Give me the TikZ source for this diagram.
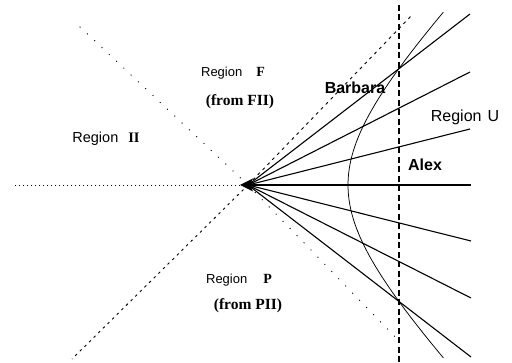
\documentclass[tikz,border=0pt]{standalone}
\usepackage{fontspec}
\setmainfont{Liberation Serif}
\setsansfont{Liberation Sans}
\begin{document}
\begin{tikzpicture}[x=1pt,y=-1pt,
  world/.style={line width=1.1pt},
  hyp/.style={line width=0.75pt},
  horizon/.style={line width=0.9pt},
  lbl/.style={inner sep=0pt, font=\sffamily\fontsize{13}{13}\selectfont},
  bold/.style={inner sep=0pt, font=\sffamily\bfseries\fontsize{16}{16}\selectfont},
  sub/.style={inner sep=0pt, font=\rmfamily\bfseries\fontsize{15.5}{15.5}\selectfont}]
\useasboundingbox (0,0) rectangle (512,363);
% vertex and end points
\coordinate (V) at (248,185);
\coordinate (E1) at (470,14);
\coordinate (E2) at (470,72);
\coordinate (E3) at (470,129);
\coordinate (E4) at (471,185);
\coordinate (E5) at (471,241);
\coordinate (E6) at (471,298);
\coordinate (E7) at (471,357);
\coordinate (UL) at (79,26);
\coordinate (UR) at (413,14);
\coordinate (DL) at (72,359);
\coordinate (DR) at (400,342);
\coordinate (HL) at (15,185);
\coordinate (AT) at (399,5);
\coordinate (AB) at (399,363);
% horizons and past/future boundaries
\draw[horizon, dash pattern=on 1pt off 3pt] (V) -- (HL);
\draw[horizon, dash pattern=on 1pt off 9pt] (V) -- (UL);
\draw[horizon, dash pattern=on 2.5pt off 4pt] (V) -- (DL);
\draw[horizon, dash pattern=on 3pt off 4pt] (V) -- (UR);
\draw[horizon, dash pattern=on 1pt off 9pt] (V) -- (DR);
% Alex's worldline
\draw[world, dash pattern=on 6pt off 3.5pt] (AT) -- (AB);
% simultaneity lines
\foreach \e in {E1,E2,E3,E4,E5,E6,E7} \draw[world] (V) -- (\e);
% Barbara's hyperbola
\draw[hyp] plot[domain=-1.29:1.29, samples=60, variable=\t]
  ({248+100*cosh(\t)}, {185-103*sinh(\t)});
\fill (240,185) -- (253,178.5) -- (250,185) -- (253,191.5) -- cycle;
% labels
\node[lbl] (rF) at (233,73) {Region\hspace{14pt}{\rmfamily\bfseries\fontsize{14}{14}\selectfont F}};
\node[sub] (fF) at (240,102) {(from FII)};
\node[lbl, font=\sffamily\fontsize{14.5}{14.5}\selectfont] (rII) at (106,139) {Region\hspace{10pt}{\rmfamily\bfseries II}};
\node[lbl] (rP) at (239,280) {Region\hspace{16pt}{\rmfamily\bfseries\fontsize{14}{14}\selectfont P}};
\node[sub] (fP) at (248,306) {(from PII)};
\node[lbl, font=\sffamily\fontsize{16}{16}\selectfont] (rU) at (465,117) {Region\hspace{6pt}U};
\node[bold] (bar) at (355,88) {Barbara};
\node[bold] (alex) at (425,165) {Alex};
\end{tikzpicture}
\end{document}
